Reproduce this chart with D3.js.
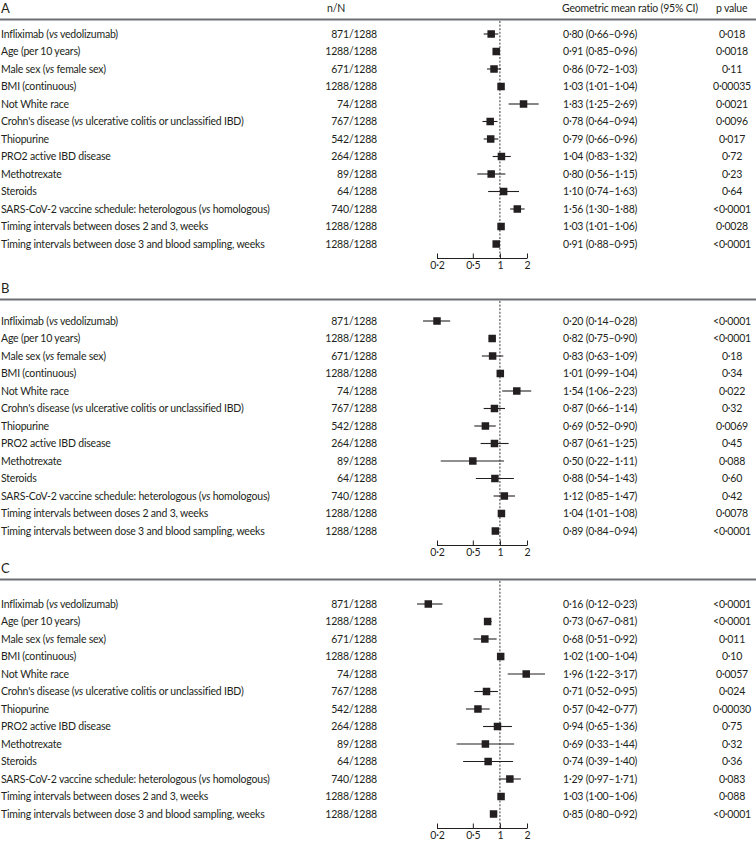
<!DOCTYPE html>
<html>
<head>
<meta charset="utf-8">
<script src="https://cdn.jsdelivr.net/npm/d3@7"></script>
<style>
  body { margin: 0; background: #fff; }
  svg { display: block; }
</style>
</head>
<body>
<div id="chart"></div>
<script>
// rows shared by the three panels; "vs" is set in italics
var labels = [
    "Infliximab (*vs* vedolizumab)",
    "Age (per 10 years)",
    "Male sex (*vs* female sex)",
    "BMI (continuous)",
    "Not White race",
    "Crohn's disease (*vs* ulcerative colitis or unclassified IBD)",
    "Thiopurine",
    "PRO2 active IBD disease",
    "Methotrexate",
    "Steroids",
    "SARS-CoV-2 vaccine schedule: heterologous (*vs* homologous)",
    "Timing intervals between doses 2 and 3, weeks",
    "Timing intervals between dose 3 and blood sampling, weeks"
];
var nN = ["871/1288", "1288/1288", "671/1288", "1288/1288", "74/1288", "767/1288", "542/1288",
    "264/1288", "89/1288", "64/1288", "740/1288", "1288/1288", "1288/1288"];

// geometric mean ratios, lower and upper 95% CI, p values
var gmrA = [0.80, 0.91, 0.86, 1.03, 1.83, 0.78, 0.79, 1.04, 0.80, 1.10, 1.56, 1.03, 0.91];
var loA  = [0.66, 0.85, 0.72, 1.01, 1.25, 0.64, 0.66, 0.83, 0.56, 0.74, 1.30, 1.01, 0.88];
var hiA  = [0.96, 0.96, 1.03, 1.04, 2.69, 0.94, 0.96, 1.32, 1.15, 1.63, 1.88, 1.06, 0.95];
var pA   = ["0·018", "0·0018", "0·11", "0·00035", "0·0021", "0·0096", "0·017", "0·72", "0·23", "0·64",
    "<0·0001", "0·0028", "<0·0001"];

var gmrB = [0.20, 0.82, 0.83, 1.01, 1.54, 0.87, 0.69, 0.87, 0.50, 0.88, 1.12, 1.04, 0.89];
var loB  = [0.14, 0.75, 0.63, 0.99, 1.06, 0.66, 0.52, 0.61, 0.22, 0.54, 0.85, 1.01, 0.84];
var hiB  = [0.28, 0.90, 1.09, 1.04, 2.23, 1.14, 0.90, 1.25, 1.11, 1.43, 1.47, 1.08, 0.94];
var pB   = ["<0·0001", "<0·0001", "0·18", "0·34", "0·022", "0·32", "0·0069", "0·45", "0·088", "0·60",
    "0·42", "0·0078", "<0·0001"];

var gmrC = [0.16, 0.73, 0.68, 1.02, 1.96, 0.71, 0.57, 0.94, 0.69, 0.74, 1.29, 1.03, 0.85];
var loC  = [0.12, 0.67, 0.51, 1.00, 1.22, 0.52, 0.42, 0.65, 0.33, 0.39, 0.97, 1.00, 0.80];
var hiC  = [0.23, 0.81, 0.92, 1.04, 3.17, 0.95, 0.77, 1.36, 1.44, 1.40, 1.71, 1.06, 0.92];
var pC   = ["<0·0001", "<0·0001", "0·011", "0·10", "0·0057", "0·024", "0·00030", "0·75", "0·32", "0·36",
    "0·083", "0·088", "<0·0001"];

var axisTicks = [0.2, 0.5, 1, 2];
var tickLabels = ["0·2", "0·5", "1", "2"];

var panels = [
    {name: "A", gmr: gmrA, lo: loA, hi: hiA, p: pA},
    {name: "B", gmr: gmrB, lo: loB, hi: hiB, p: pB},
    {name: "C", gmr: gmrC, lo: loC, hi: hiC, p: pC}
];

// vertical layout of each panel (header rule, first row)
var layout = [
    {rule: 19.5, first: 34},
    {rule: 299.5, first: 321},
    {rule: 579.5, first: 604}
];

var width = 756, height = 847;
var ink = "#231f20";
var rowStep = 17.5;
var font = "Lato, sans-serif";

var svg = d3.select("#chart").append("svg")
    .attr("width", width)
    .attr("height", height)
    .attr("font-family", font)
    .attr("font-size", 10.5)
    .attr("letter-spacing", -0.2)
    .attr("fill", ink);

var x = d3.scaleLog()
    .domain([0.2, 2])
    .range([437, 527]);

var fmt = d3.format(".2f");
function dot(v) {
    return fmt(v).replace(".", "·");
}

panels.forEach(function (panel, pi) {
    var lay = layout[pi];
    var g = svg.append("g");

    var y = d3.scaleLinear()
        .domain([0, labels.length - 1])
        .range([lay.first, lay.first + rowStep * (labels.length - 1)]);

    var axisY = Math.round(y(labels.length - 1) + 14) + 0.5;

    g.append("text")
        .attr("x", 1)
        .attr("y", lay.rule - 7)
        .attr("font-size", 13)
        .text(panel.name);

    if (pi == 0) {
        g.append("text")
            .attr("x", 327)
            .attr("y", 12)
            .text("n/N");
        g.append("text")
            .attr("x", 562)
            .attr("y", 12)
            .text("Geometric mean ratio (95% CI)");
        g.append("text")
            .attr("x", 716)
            .attr("y", 12)
            .text("p value");
    }

    g.append("line")
        .attr("x1", 0)
        .attr("x2", width)
        .attr("y1", lay.rule)
        .attr("y2", lay.rule)
        .attr("stroke", "#6d6e71")
        .attr("stroke-width", 1.8);

    // reference line at 1
    g.append("line")
        .attr("x1", x(1))
        .attr("x2", x(1))
        .attr("y1", lay.rule + 1.5)
        .attr("y2", axisY)
        .attr("stroke", ink)
        .attr("stroke-width", 0.9)
        .attr("stroke-dasharray", "2,1.6");

    var rows = g.selectAll("g.row")
        .data(labels)
        .enter()
        .append("g")
        .attr("class", "row");

    // label with italic "vs"
    rows.append("text")
        .attr("x", 1)
        .attr("y", function (d, i) { return y(i); })
        .attr("dy", "0.35em")
        .each(function (d) {
            var t = d3.select(this);
            d.split("*").forEach(function (part, k) {
                t.append("tspan")
                    .attr("font-style", k % 2 == 1 ? "italic" : null)
                    .text(part);
            });
        });

    rows.append("text")
        .attr("x", 377)
        .attr("y", function (d, i) { return y(i); })
        .attr("dy", "0.35em")
        .attr("text-anchor", "end")
        .text(function (d, i) { return nN[i]; });

    rows.append("line")
        .attr("x1", function (d, i) { return x(panel.lo[i]); })
        .attr("x2", function (d, i) { return x(panel.hi[i]); })
        .attr("y1", function (d, i) { return y(i); })
        .attr("y2", function (d, i) { return y(i); })
        .attr("stroke", ink)
        .attr("stroke-width", 1.1);

    rows.append("rect")
        .attr("x", function (d, i) { return x(panel.gmr[i]) - 3.75; })
        .attr("y", function (d, i) { return y(i) - 3.75; })
        .attr("width", 7.5)
        .attr("height", 7.5)
        .attr("fill", ink);

    rows.append("text")
        .attr("x", 563)
        .attr("y", function (d, i) { return y(i); })
        .attr("dy", "0.35em")
        .text(function (d, i) {
            return dot(panel.gmr[i]) + " (" + dot(panel.lo[i]) + "–" + dot(panel.hi[i]) + ")";
        });

    rows.append("text")
        .attr("x", 732)
        .attr("y", function (d, i) { return y(i); })
        .attr("dy", "0.35em")
        .attr("text-anchor", "middle")
        .text(function (d, i) { return panel.p[i]; });

    var axis = d3.axisBottom(x)
        .tickValues(axisTicks)
        .tickFormat(function (d, i) { return tickLabels[i]; })
        .tickSizeInner(-5)
        .tickSizeOuter(0)
        .tickPadding(3);

    var ax = g.append("g")
        .attr("transform", "translate(0," + axisY + ")")
        .call(axis);
    ax.select(".domain").attr("stroke", ink).attr("d", "M" + x(0.2) + ",0H" + x(2));
    ax.selectAll(".tick line").attr("stroke", ink);
    ax.selectAll(".tick text")
        .attr("fill", ink)
        .attr("font-family", font)
        .attr("font-size", 10.5);
});
</script>
</body>
</html>
